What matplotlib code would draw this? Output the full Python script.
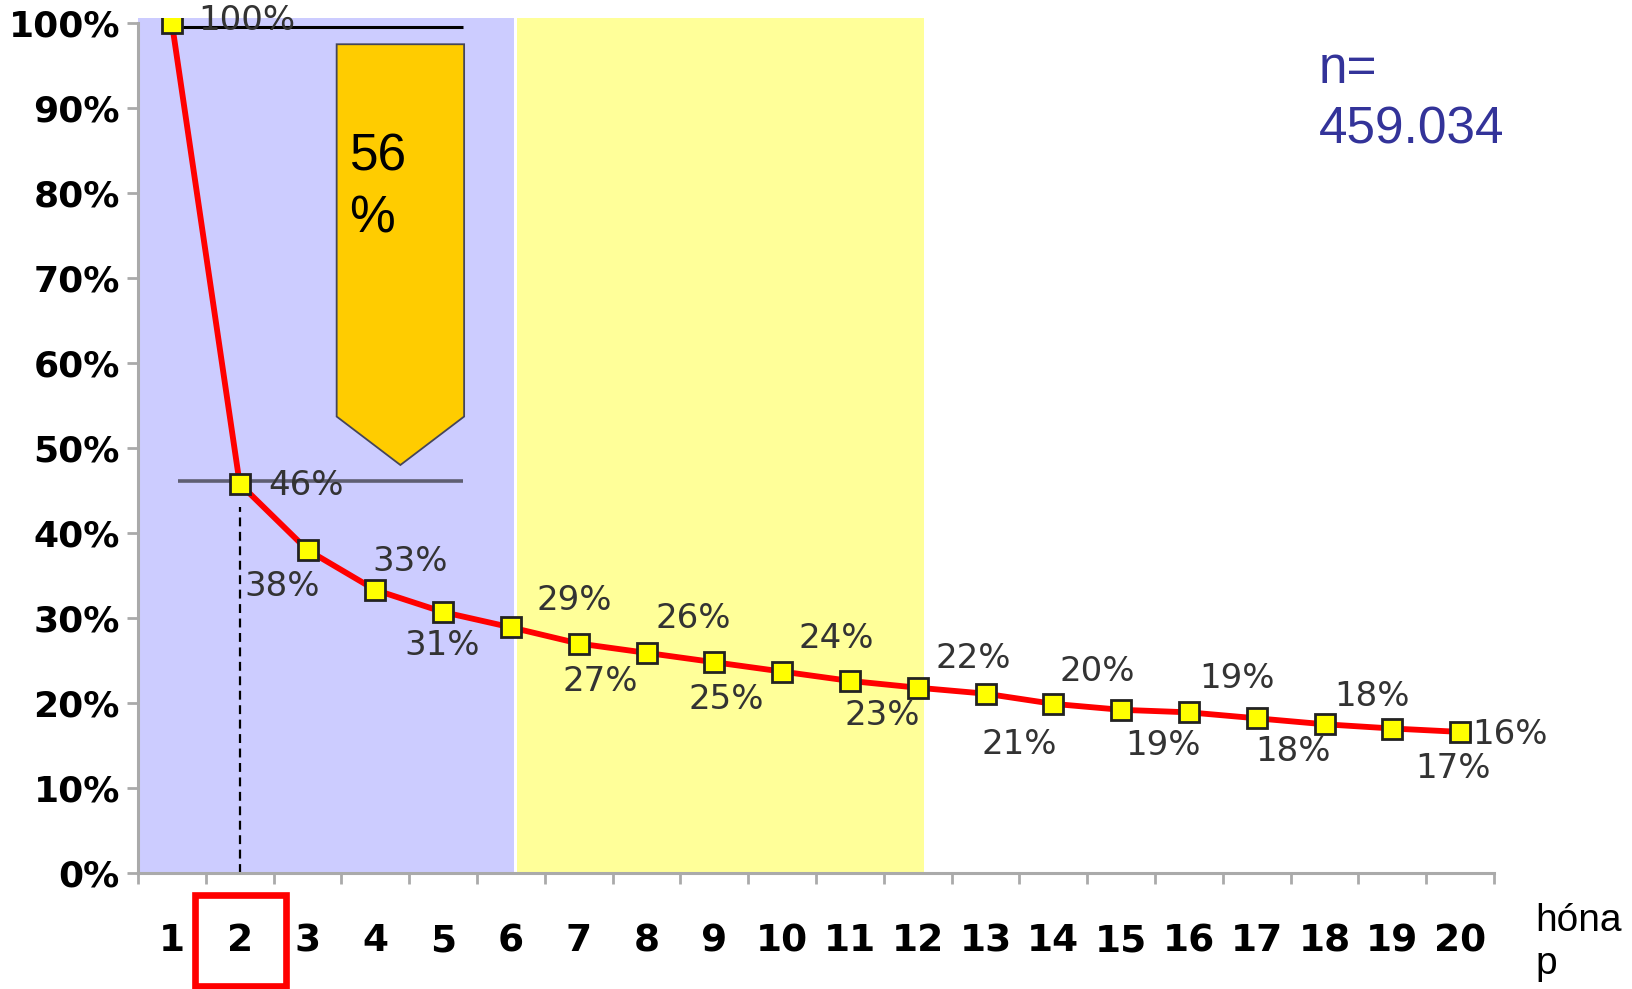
import matplotlib.pyplot as plt
from matplotlib.patches import Polygon, Rectangle

# Data
months = list(range(1, 21))
retention = [100, 45.8, 38.0, 33.3, 30.7, 28.9, 27.0, 25.9, 24.8, 23.7,
             22.6, 21.8, 21.1, 19.9, 19.2, 18.9, 18.2, 17.5, 17.0, 16.6]
point_labels = ["100%", "46%", "38%", "33%", "31%", "29%", "27%", "26%", "25%", "24%",
                "23%", "22%", "21%", "20%", "19%", "19%", "18%", "18%", "17%", "16%"]
month_labels = [str(m) for m in months]
y_ticks = [0, 10, 20, 30, 40, 50, 60, 70, 80, 90, 100]
y_tick_labels = [f"{v}%" for v in y_ticks]
drop_text = "56\n%"
sample_text = "n=\n459.034"
x_title = "hóna\np"
first_phase = (0.5, 6.05)
second_phase = (6.09, 12.1)

# label offsets in pixels (dx, dy) - layout only
label_offsets = [(75, 2), (66, -2), (-25, -36), (35, 28), (-1, -33), (63, 27), (22, -38),
                 (47, 34), (12, -37), (54, 33), (32, -35), (56, 29), (34, -51), (44, 32),
                 (42, -36), (48, 34), (36, -33), (48, 28), (61, -40), (50, -3)]

W, H = 1632, 989
fig = plt.figure(figsize=(W / 100, H / 100), dpi=100)
ax = fig.add_axes([138 / W, 116 / H, 1356 / W, 855.1 / H])
ax.set_xlim(0.5, 20.5)
ax.set_ylim(0, 100.6)

# Phase backgrounds
ax.axvspan(*first_phase, color="#ccccff", lw=0, zorder=0)
ax.axvspan(*second_phase, color="#ffff99", lw=0, zorder=0)

# Reference lines
ax.hlines(retention[0] - 0.5, months[0], 5.3, color="black", lw=2.2, zorder=2)
ax.hlines(retention[1] + 0.3, 1.09, 5.3, color="#5e5e72", lw=2.6, zorder=2)
ax.vlines(months[1], 0, retention[1] - 2.7, color="black", lw=1.6,
          linestyles=(0, (4, 2.5)), zorder=2)

# Drop arrow
arrow = Polygon([(3.43, 97.5), (5.31, 97.5), (5.31, 53.7), (4.37, 48.0), (3.43, 53.7)],
                closed=True, facecolor="#ffcc00", edgecolor="#45455a", lw=1.3, zorder=2)
ax.add_patch(arrow)
ax.text(3.62, 87.06, drop_text, family="Liberation Sans", fontsize=37,
        va="top", ha="left", linespacing=1.32, zorder=3)

# Retention curve
ax.plot(months, retention, color="#ff0000", lw=4.2, zorder=3,
        marker="s", markersize=15, markerfacecolor="#ffff00",
        markeredgecolor="#222222", markeredgewidth=2)

for m, v, lab, (dx, dy) in zip(months, retention, point_labels, label_offsets):
    ax.annotate(lab, (m, v), xytext=(dx, dy), textcoords="offset pixels",
                ha="center", va="center", fontsize=24.5, color="#333333", zorder=4)

# Sample size
ax.text(17.91, 97.4, sample_text, family="Liberation Sans", fontsize=37,
        color="#333399", va="top", ha="left", linespacing=1.3)

# Axes styling
for side in ["top", "right"]:
    ax.spines[side].set_visible(False)
for side in ["left", "bottom"]:
    ax.spines[side].set_color("#aaaaaa")
    ax.spines[side].set_linewidth(2.2)
ax.spines["left"].set_bounds(0, 100)

ax.set_yticks(y_ticks, y_tick_labels)
ax.tick_params(axis="y", length=8, width=2, color="#aaaaaa", pad=5, labelsize=26)
for t in ax.get_yticklabels():
    t.set_fontweight("bold")

ax.set_xticks([m - 0.5 for m in months] + [months[-1] + 0.5])
ax.set_xticklabels([])
ax.set_xticks(months, minor=True)
ax.set_xticklabels(month_labels, minor=True, fontweight="bold")
ax.tick_params(axis="x", which="major", direction="out", length=8, width=2, color="#aaaaaa")
ax.tick_params(axis="x", which="minor", length=0, pad=36, labelsize=27)

# Highlight month 2
ax.add_patch(Rectangle((1.34, -13.26), 1.34, 10.64, fill=False, edgecolor="#ff0000",
                       lw=4.8, clip_on=False, zorder=5))

fig.text(1535 / W, 1 - 903 / H, x_title, family="Liberation Sans", fontsize=28,
         va="top", ha="left", linespacing=1.25)

fig.savefig("out.png", dpi=100)
